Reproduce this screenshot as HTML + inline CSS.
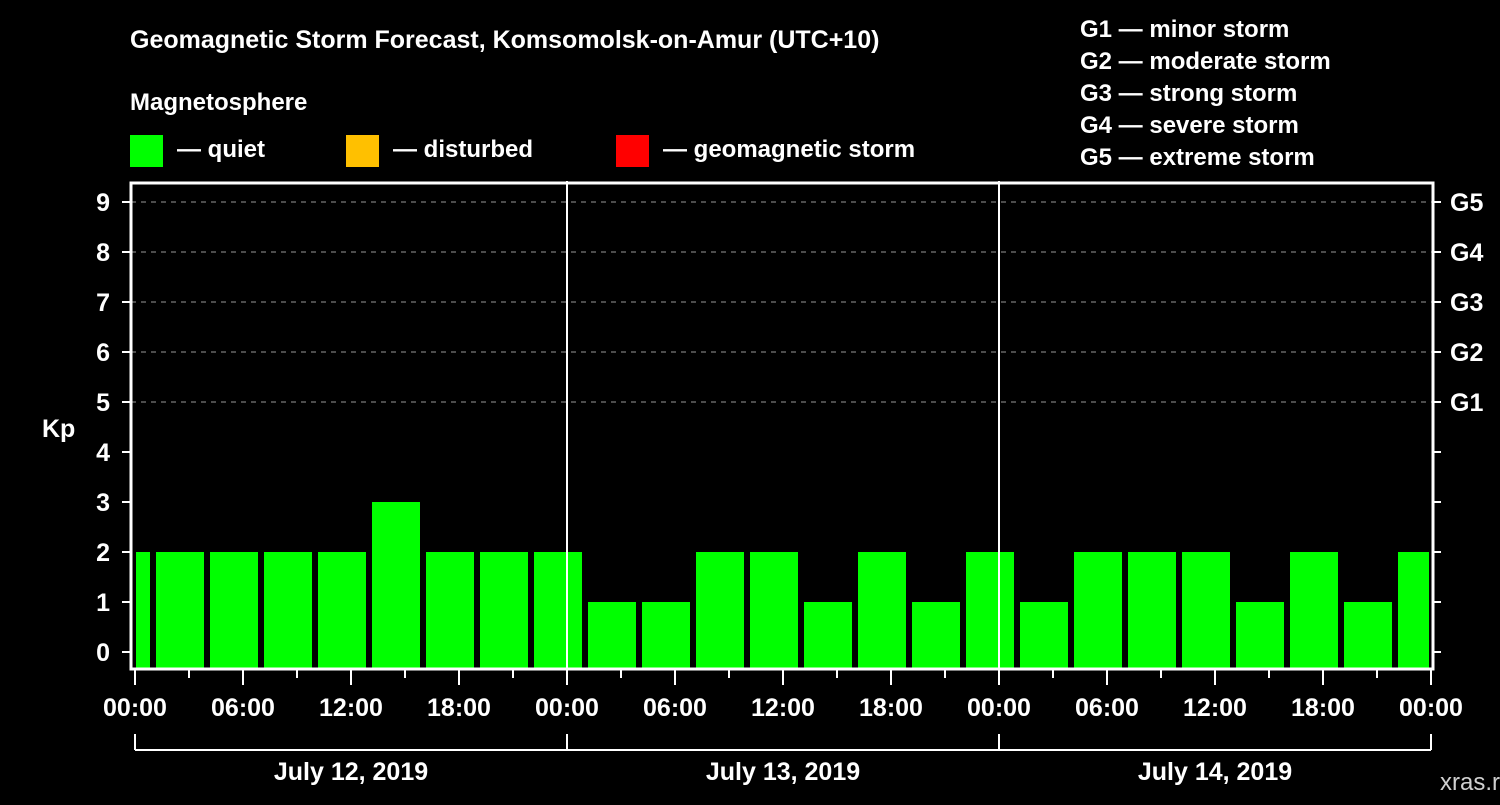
<!DOCTYPE html>
<html><head><meta charset="utf-8"><style>
html,body{margin:0;background:#000;}
svg text{font-family:"Liberation Sans",sans-serif;font-weight:bold;fill:#fff;}
</style></head><body>
<svg id="c" width="1500" height="800" viewBox="0 0 1500 800">
<rect width="1500" height="800" fill="#000"/>
<text x="130" y="48" font-size="25">Geomagnetic Storm Forecast, Komsomolsk-on-Amur (UTC+10)</text>
<text x="130" y="110" font-size="24">Magnetosphere</text>
<g><rect x="130" y="135" width="33" height="32" fill="#00ff00"/><text x="177" y="157" font-size="24">— quiet</text></g>
<g><rect x="346" y="135" width="33" height="32" fill="#ffc000"/><text x="393" y="157" font-size="24">— disturbed</text></g>
<g><rect x="616" y="135" width="33" height="32" fill="#ff0000"/><text x="663" y="157" font-size="24">— geomagnetic storm</text></g>
<g font-size="24">
<text x="1080" y="37">G1 — minor storm</text>
<text x="1080" y="69">G2 — moderate storm</text>
<text x="1080" y="101">G3 — strong storm</text>
<text x="1080" y="133">G4 — severe storm</text>
<text x="1080" y="165">G5 — extreme storm</text>
</g>
<text x="42" y="437" font-size="25">Kp</text>
<text x="1440" y="790" font-size="24" fill="#ccc" style="fill:#d0d0d0;font-weight:normal">xras.ru</text>
<g id="plot"></g>
</svg>
<script>
const kpValues=[2,2,2,2,2,3,2,2,2,1,1,2,2,1,2,1,2,1,2,2,2,1,2,1,2];
const barStartHours=[-2,1,4,7,10,13,16,19,22,25,28,31,34,37,40,43,46,49,52,55,58,61,64,67,70];
const yTicks=[0,1,2,3,4,5,6,7,8,9];
const gLabels=["G1","G2","G3","G4","G5"];
const xTickLabels=["00:00","06:00","12:00","18:00","00:00","06:00","12:00","18:00","00:00","06:00","12:00","18:00","00:00"];
const dayLabels=["July 12, 2019","July 13, 2019","July 14, 2019"];
const X0=135,HPX=18,LEFT=131,RIGHT=1433,TOP=183,BOT=669;
const x=h=>X0+h*HPX;
const y=v=>652-v*50;
const NS="http://www.w3.org/2000/svg";
const g=document.getElementById('plot');
function mk(t,a){const e=document.createElementNS(NS,t);for(const k in a)e.setAttribute(k,a[k]);g.appendChild(e);return e;}
// gridlines
for(let v=5;v<=9;v++){const l=mk('line',{x1:LEFT,x2:RIGHT,y1:y(v),y2:y(v),stroke:'#999','stroke-dasharray':'5,5','stroke-width':1});

}
// bars
kpValues.forEach((v,i)=>{let a=x(barStartHours[i])+3,b=x(barStartHours[i]+3)-3;a=Math.max(a,LEFT+5);b=Math.min(b,RIGHT-4);
const r=mk('rect',{x:a,y:y(v),width:b-a,height:BOT-y(v),fill:'#00ff00'});

});
// day separators
[24,48].forEach(h=>{const l=mk('line',{x1:x(h),x2:x(h),y1:TOP-2,y2:BOT,stroke:'#fff','stroke-width':2});

});
// frame
const f=mk('rect',{x:LEFT,y:TOP,width:RIGHT-LEFT,height:BOT-TOP,fill:'none',stroke:'#fff','stroke-width':3});


// y ticks
yTicks.forEach(v=>{mk('line',{x1:122,x2:LEFT,y1:y(v),y2:y(v),stroke:'#fff','stroke-width':2});
mk('line',{x1:RIGHT,x2:1441,y1:y(v),y2:y(v),stroke:'#fff','stroke-width':2});
const t=mk('text',{x:110,y:y(v)+9,'font-size':25,'text-anchor':'end'});t.textContent=v;

});
gLabels.forEach((s,i)=>{const t=mk('text',{x:1450,y:y(5+i)+9,'font-size':25});t.textContent=s;

});
// x ticks
for(let h=0;h<=72;h+=3){const major=h%6==0;mk('line',{x1:x(h),x2:x(h),y1:BOT,y2:major?685:678,stroke:'#fff','stroke-width':2});}
xTickLabels.forEach((s,i)=>{const t=mk('text',{x:x(i*6),y:716,'font-size':25,'text-anchor':'middle'});t.textContent=s;

});
// day brackets
mk('line',{x1:x(0),x2:x(72),y1:750,y2:750,stroke:'#fff','stroke-width':2});
[0,24,48,72].forEach(h=>mk('line',{x1:x(h),x2:x(h),y1:734,y2:750,stroke:'#fff','stroke-width':2}));
dayLabels.forEach((s,i)=>{const t=mk('text',{x:x(i*24+12),y:780,'font-size':25,'text-anchor':'middle'});t.textContent=s;

});
</script>
</body></html>
